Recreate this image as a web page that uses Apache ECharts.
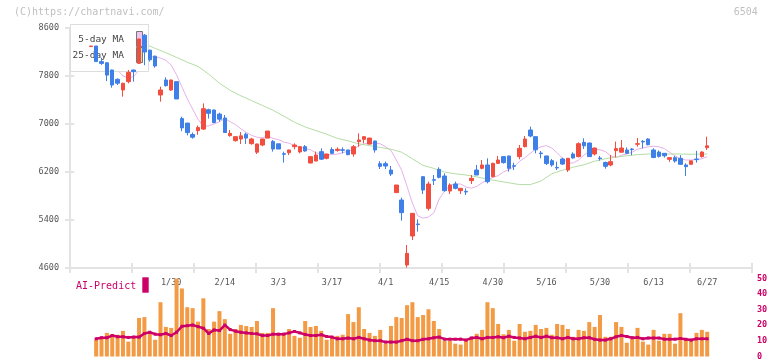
<!DOCTYPE html>
<html><head><meta charset="utf-8">
<script src="https://cdn.jsdelivr.net/npm/echarts@6/dist/echarts.min.js"></script>
<style>html,body{margin:0;padding:0;background:#fff}#c{width:772px;height:361px}</style>
</head><body><div id="c"></div>
<script>
const dates = ['1/8','1/9','1/10','1/14','1/15','1/16','1/17','1/20','1/21','1/22','1/23','1/24','1/27','1/28','1/29','1/30','1/31',
'2/3','2/4','2/5','2/6','2/7','2/10','2/12','2/13','2/14','2/17','2/18','2/19','2/20','2/21','2/25','2/26','2/27','2/28',
'3/3','3/4','3/5','3/6','3/7','3/10','3/11','3/12','3/13','3/14','3/17','3/18','3/19','3/21','3/24','3/25','3/26','3/27','3/28','3/31',
'4/1','4/2','4/3','4/4','4/7','4/8','4/9','4/10','4/11','4/14','4/15','4/16','4/17','4/18','4/21','4/22','4/23','4/24','4/25','4/28','4/30',
'5/1','5/2','5/7','5/8','5/9','5/12','5/13','5/14','5/15','5/16','5/19','5/20','5/21','5/22','5/23','5/26','5/27','5/28','5/29','5/30',
'6/2','6/3','6/4','6/5','6/6','6/9','6/10','6/11','6/12','6/13','6/16','6/17','6/18','6/19','6/20','6/23','6/24','6/25','6/26','6/27'];

const opens = [8290,8300,8040,8020,7900,7745,7567,7706,7900,8011,
8480,8230,8130,7483,7733,7567,7706,7090,7015,6825,
6890,6915,7238,7233,7165,7100,6806,6722,6750,6830,
6672,6530,6650,6765,6710,6670,6505,6522,6622,6535,
6622,6350,6383,6539,6428,6575,6560,6570,6567,6500,
6706,6744,6665,6717,6339,6339,6233,5856,5733,4650,
5133,5333,6122,5594,6072,6244,6133,5883,6000,5889,
5877,6056,6233,6261,6317,6122,6344,6456,6467,6305,
6456,6622,6900,6789,6516,6467,6389,6277,6417,6233,
6500,6456,6694,6683,6500,6433,6358,6317,6556,6530,
6567,6583,6662,6711,6750,6567,6533,6511,6411,6439,
6428,6317,6328,6416,6456,6606];
const closes = [8300,8040,8010,7815,7650,7680,7678,7861,7872,8417,
8200,8070,7967,7567,7639,7733,7417,6935,6856,6780,
6940,7255,7178,7025,7080,6858,6844,6789,6803,6765,
6750,6667,6750,6883,6583,6583,6495,6567,6650,6622,
6550,6456,6483,6414,6500,6511,6578,6562,6489,6622,
6733,6789,6765,6567,6294,6300,6167,5983,5522,4844,
5511,5323,5900,6000,6062,6111,5889,5983,5928,5928,
5867,6094,6150,6317,6039,6344,6400,6356,6261,6295,
6594,6750,6800,6570,6506,6340,6317,6267,6333,6428,
6435,6672,6636,6456,6600,6423,6295,6372,6590,6600,
6511,6573,6672,6701,6655,6442,6460,6470,6439,6383,
6328,6289,6386,6406,6533,6636];
const lows = [8290,8040,7985,7715,7605,7650,7456,7678,7706,8000,
7980,8040,7939,7372,7622,7550,7417,6880,6810,6755,
6820,6900,7090,7011,7039,6850,6789,6706,6667,6667,
6655,6500,6630,6765,6540,6583,6356,6483,6578,6511,
6539,6344,6380,6400,6411,6500,6539,6511,6480,6456,
6622,6678,6660,6522,6250,6250,6133,5856,5389,4606,
5067,5206,5833,5556,5983,6094,5872,5833,5911,5833,
5817,6000,6150,6244,6011,6111,6333,6340,6206,6233,
6411,6611,6778,6511,6428,6317,6290,6233,6317,6200,
6420,6444,6583,6456,6475,6389,6255,6295,6444,6530,
6500,6480,6622,6594,6645,6430,6440,6440,6370,6355,
6320,6133,6328,6356,6440,6567];
const highs = [8300,8300,8105,8030,7905,7760,7690,7900,7905,8420,
8500,8240,8140,7622,7778,7740,7710,7122,7020,6858,
6975,7344,7255,7240,7189,7150,6900,6795,6866,6856,
6770,6672,6755,6883,6733,6670,6539,6570,6678,6625,
6650,6460,6539,6594,6505,6611,6611,6611,6570,6650,
6844,6800,6770,6720,6380,6375,6300,5983,5772,4983,
5515,5411,6130,6039,6150,6278,6178,6011,6039,5930,
5928,6150,6317,6400,6428,6355,6467,6467,6470,6356,
6650,6800,6956,6790,6550,6470,6417,6372,6439,6430,
6528,6694,6761,6690,6605,6467,6375,6483,6706,6733,
6611,6600,6767,6733,6761,6595,6560,6515,6450,6467,
6480,6345,6386,6553,6545,6789];

const ma5 = ['-','-','-','-',8000,7900,7800,7770,7790,7900,
8050,8120,8120,8100,8060,7980,7820,7620,7420,7250,
7080,6960,6970,7000,7040,7090,7040,6990,6920,6860,
6810,6780,6770,6800,6760,6740,6700,6680,6640,6620,
6590,6570,6520,6500,6490,6490,6500,6520,6550,6570,
6640,6670,6680,6680,6670,6620,6560,6400,6230,5960,
5680,5470,5430,5450,5520,5750,5880,5980,6000,6000,
5950,5930,5960,6020,6070,6110,6140,6200,6240,6290,
6380,6440,6510,6580,6620,6640,6600,6520,6430,6350,
6350,6400,6480,6550,6580,6570,6540,6470,6440,6480,
6500,6530,6580,6600,6620,6630,6620,6590,6530,6470,
6420,6400,6400,6410,6420,6456];
const ma25 = [[10,8340],[12,8260],[14,8190],[16,8110],[18,8030],[20,7960],[22,7830],[24,7680],[26,7560],[28,7470],
[30,7390],[32,7310],[34,7230],[36,7130],[38,7030],[40,6950],[42,6890],[44,6830],[46,6760],[48,6720],
[50,6670],[52,6640],[54,6610],[56,6580],[58,6530],[60,6420],[62,6310],[64,6260],[66,6200],[68,6170],
[70,6150],[72,6120],[74,6080],[76,6050],[78,6020],[80,5990],[82,5990],[84,6050],[86,6170],[88,6230],
[90,6280],[92,6320],[94,6380],[96,6420],[98,6450],[100,6470],[102,6490],[104,6500],[106,6500],[108,6500],
[110,6500],[112,6495],[115,6500]];

const volumes = ['-',10.7,11.8,15.1,14.3,13.9,16.4,9.5,12.8,24.6,
25.2,15.1,10.7,34.7,18.9,18.3,49.8,43.5,31.5,30.9,
22.3,37.2,17.6,22.3,29,23.9,14.5,17.6,20.2,19.5,
18.9,22.7,15.1,15.1,30.9,14.5,15.1,17.6,13.2,12,
22.7,18.9,19.5,16.4,10.7,12.6,13.2,13.9,27.1,22,
31.5,17.6,15.1,13.2,17,8.2,19.5,25.2,24.6,32.8,
34.7,25.2,26.5,30.2,22.7,17.6,10.1,10.1,8.2,7.6,
10.1,12.6,14.5,17,34.7,30.9,20.8,14.2,17,10.1,
20.8,15.8,16.4,20.2,17.6,18.3,13.9,20.8,20.2,17.6,
12.6,17,16.4,22,18.9,26.5,12.6,12.6,22,18.9,
8.8,11.3,18.3,9.5,7.6,17,10.1,14.5,14.5,8.2,
27.7,11.3,10.1,15.1,17,15.8];
const aiPredict = ['-',11.3,12,12,13.4,12.6,12.6,12.2,12.4,12.4,
14.7,15.5,14.3,13.9,14.7,13.4,15.5,19.3,19.7,20.1,
19.1,18.1,14.7,17,16.6,20.1,17.2,16.2,15.5,15.1,
14.7,14.5,13.4,13.4,14.3,14.3,14.3,15.1,16,15.1,
14.1,13.4,13.4,13.9,12.8,12.4,11.3,11.3,11.8,11.3,
12.2,11.3,10.5,10.1,10.1,9.2,9.2,9.2,10.1,11,
10.1,10.1,11,11.3,12,12.4,11.1,11.1,11.1,11.1,
10.5,11.8,12.2,11.3,12.2,12.2,12.6,12,13,12.2,
11.8,11.3,12.2,13,12.2,13,12,12,11.3,12.2,
11.3,11.3,12,12,11,10.5,10.5,11.3,12.6,13.4,
12.8,12,12.2,11.3,11.8,11.8,11.8,11.1,11.1,11.1,
11.5,11,10.5,11.3,11.3,11.3];

const priceTicks = {min: 4600, max: 8600, interval: 800};
const volTicks = {min: 0, max: 50, interval: 10};
const labelStart = 15, labelStep = 10;

const FONT = '"DejaVu Sans Mono", "Liberation Mono", monospace';
const AX = '#e3e3e3';
const RED = '#f24e3f', BLUE = '#3f7fe8';
const candleData = opens.map((o, i) => [o, closes[i], lows[i], highs[i]]);

const chart = echarts.init(document.getElementById('c'), null, {renderer: 'canvas'});
const cl = 88.12, cw = 621.76;
chart.setOption({
  animation: false,
  grid: [
    {left: 70, top: 28, width: 682, height: 240},
    {left: cl, top: 28, width: cw, height: 240},
    {left: cl, top: 278.3, width: cw, height: 79.7}
  ],
  xAxis: [
    {gridIndex: 0, type: 'value', position: 'bottom', min: 0, max: 11, interval: 1,
      axisLine: {show: true, lineStyle: {color: AX, width: 2}},
      axisTick: {show: true, length: 5, lineStyle: {color: AX, width: 2}},
      axisLabel: {show: false}, splitLine: {show: false}},
    {gridIndex: 0, type: 'value', position: 'bottom', min: 0, max: 11, interval: 1,
      axisLine: {show: false},
      axisTick: {show: true, inside: true, length: 5, lineStyle: {color: AX, width: 2}},
      axisLabel: {show: false}, splitLine: {show: false}},
    {gridIndex: 1, type: 'category', position: 'bottom', data: dates, boundaryGap: true,
      axisLine: {show: false}, axisTick: {show: false}, splitLine: {show: false},
      axisLabel: {margin: 10, color: '#555', fontSize: 8.5, fontFamily: FONT,
        interval: (i) => i >= labelStart && (i - labelStart) % labelStep === 0}},
    {gridIndex: 2, type: 'category', data: dates, boundaryGap: true, show: false}
  ],
  yAxis: [
    {gridIndex: 0, type: 'value', position: 'left', min: priceTicks.min, max: priceTicks.max, interval: priceTicks.interval,
      axisLine: {show: true, lineStyle: {color: AX, width: 2}},
      axisTick: {show: true, length: 5, lineStyle: {color: AX, width: 2}},
      axisLabel: {margin: 11, color: '#555', fontSize: 8.5, fontFamily: FONT, formatter: (v) => String(v)},
      splitLine: {show: false}},
    {gridIndex: 0, type: 'value', position: 'left', min: priceTicks.min, max: priceTicks.max, interval: priceTicks.interval,
      axisLine: {show: false},
      axisTick: {show: true, inside: true, length: 4, lineStyle: {color: AX, width: 2}},
      axisLabel: {show: false}, splitLine: {show: false}},
    {gridIndex: 1, type: 'value', min: priceTicks.min, max: priceTicks.max, show: false},
    {gridIndex: 2, type: 'value', position: 'right', offset: 752 - (cl + cw),
      min: volTicks.min, max: volTicks.max, interval: volTicks.interval,
      axisLine: {show: false}, axisTick: {show: false}, splitLine: {show: false},
      axisLabel: {margin: 5, color: '#cc0066', fontWeight: 'bold', fontSize: 8.5, fontFamily: FONT}}
  ],
  series: [
    {type: 'line', xAxisIndex: 2, yAxisIndex: 2, data: ma5, symbol: 'none', z: 1,
      lineStyle: {color: '#e6b0ea', width: 1}},
    {type: 'line', xAxisIndex: 2, yAxisIndex: 2, data: ma25, symbol: 'none', z: 1,
      lineStyle: {color: '#b4dca4', width: 1}},
    {type: 'candlestick', xAxisIndex: 2, yAxisIndex: 2, data: candleData, barWidth: 4, z: 3,
      itemStyle: {color: RED, color0: BLUE, borderColor: RED, borderColor0: BLUE, borderWidth: 1}},
    {type: 'bar', xAxisIndex: 3, yAxisIndex: 3, data: volumes, barWidth: 4, z: 2,
      itemStyle: {color: '#f39a44'}},
    {type: 'line', xAxisIndex: 3, yAxisIndex: 3, data: aiPredict, z: 3,
      symbol: 'rect', symbolSize: 3, showSymbol: true,
      lineStyle: {color: '#cc0066', width: 2.5}, itemStyle: {color: '#cc0066'}}
  ],
  graphic: [
    {type: 'rect', z: 2, shape: {x: 70.5, y: 24.5, width: 78, height: 47},
      style: {fill: '#ffffff', stroke: '#dddddd', lineWidth: 1}},
    {type: 'text', z: 2, x: 124, y: 40, style: {text: '5-day MA', fill: '#444', font: '9.5px ' + FONT, textAlign: 'right', textVerticalAlign: 'middle'}},
    {type: 'text', z: 2, x: 124, y: 56, style: {text: '25-day MA', fill: '#444', font: '9.5px ' + FONT, textAlign: 'right', textVerticalAlign: 'middle'}},
    {type: 'rect', z: 2, shape: {x: 136.5, y: 31.5, width: 6, height: 15},
      style: {fill: '#f0c4f0', stroke: '#777', lineWidth: 1}},
    {type: 'rect', z: 2, shape: {x: 136.5, y: 47.5, width: 6, height: 15},
      style: {fill: '#c4e4b8', stroke: '#777', lineWidth: 1}},
    {type: 'text', z: 5, x: 76, y: 286, style: {text: 'AI-Predict', fill: '#cc0066', font: '10px ' + FONT, textVerticalAlign: 'middle'}},
    {type: 'rect', z: 5, shape: {x: 142.3, y: 277.3, width: 6.4, height: 15.4}, style: {fill: '#cc0066'}},
    {type: 'text', z: 5, x: 14, y: 12.7, style: {text: '(C)https://chartnavi.com/', fill: '#c0c0c0', font: '10px ' + FONT, textVerticalAlign: 'middle'}},
    {type: 'text', z: 5, x: 733.7, y: 12.3, style: {text: '6504', fill: '#c0c0c0', font: '10px ' + FONT, textVerticalAlign: 'middle'}}
  ]
});
</script></body></html>
